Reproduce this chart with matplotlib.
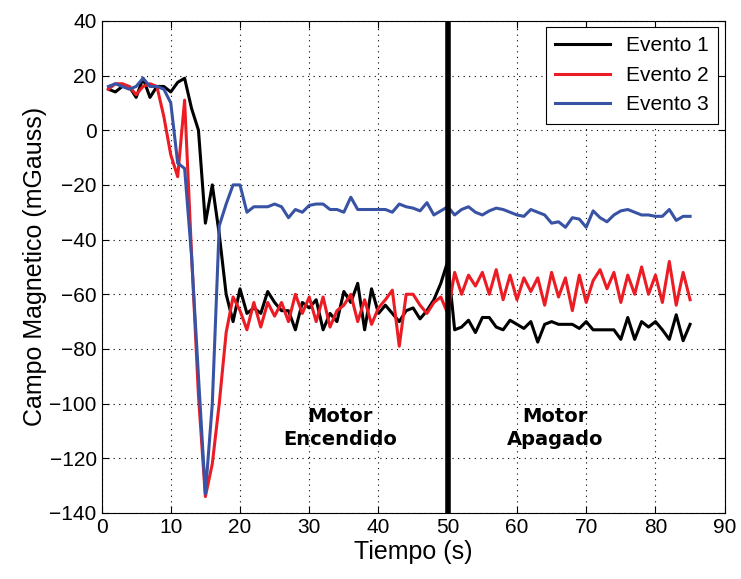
import matplotlib
matplotlib.use("Agg")
import matplotlib.pyplot as plt

plt.rcParams["font.family"] = ["Liberation Sans", "DejaVu Sans"]

tiempo = list(range(1, 86))

evento_1 = [
    15, 14, 16, 16, 12, 19, 12, 16, 16, 14,
    17.5, 19, 8, 0, -34, -20, -38, -60, -70, -58,
    -67, -65, -67, -59, -63, -66, -66, -73, -63, -65,
    -62, -73, -67, -70, -59, -63, -56, -73, -58, -67,
    -64, -67, -70, -66, -65, -69, -66, -62, -56, -48,
    -73, -72, -69.5, -74, -68.5, -68.5, -72, -73, -69.5, -71,
    -72.5, -70, -77.5, -71, -70, -71, -71, -71, -72.5, -70,
    -73, -73, -73, -73, -76.5, -68.5, -76.5, -70, -72, -70,
    -73, -76.5, -67.5, -77, -71,
]

evento_2 = [
    15, 17, 17, 16, 13, 16, 17, 16, 5, -9,
    -17, 11, -45, -97, -134, -122, -100, -74, -61, -66,
    -73, -63, -72, -63, -68, -63, -70, -60, -67, -61,
    -70, -61, -72, -66, -64, -60, -70, -62, -71, -65,
    -62, -58.5, -79, -60, -60, -64, -67, -63, -61, -67,
    -52, -60, -53, -57, -52, -60, -51, -62, -53, -62,
    -54, -59, -54, -64, -52, -61, -54, -66, -53, -63,
    -55, -51, -58, -52, -63, -53, -60, -50, -60, -53,
    -63, -48, -64, -52, -62,
]

evento_3 = [
    16, 17, 16, 15, 16, 19, 16, 16, 15, 10,
    -12, -14, -46, -90, -133, -100, -35, -27, -20, -20,
    -30, -28, -28, -28, -27, -28, -32, -29, -30, -27.5,
    -27, -27, -29, -29, -30, -24.5, -29, -29, -29, -29,
    -29, -30, -27, -28, -28.5, -29.5, -26.5, -31, -29.5, -28,
    -31, -29, -28, -30, -31, -29.5, -28.5, -29, -30, -31,
    -31.5, -29, -30, -31, -34, -33.5, -35.5, -32, -32.5, -35.5,
    -29.5, -32, -33.5, -31, -29.5, -29, -30, -31, -31, -31.5,
    -31.5, -29, -33, -31.5, -31.5,
]

t_motor = 50
x_ticks = list(range(0, 91, 10))
y_ticks = list(range(-140, 41, 20))

fig = plt.figure(figsize=(7.41, 5.79), dpi=100)
ax = fig.add_axes([0.137, 0.114, 0.841, 0.85])

ax.plot(tiempo, evento_1, color="black", linewidth=2.2, label="Evento 1")
ax.plot(tiempo, evento_2, color="#ec1c24", linewidth=2.2, label="Evento 2")
ax.plot(tiempo, evento_3, color="#3953a4", linewidth=2.2, label="Evento 3")
ax.axvline(t_motor, color="black", linewidth=4, zorder=5)

ax.text(34.5, -109, "Motor\nEncendido", family="DejaVu Sans", fontweight="bold",
        fontsize=14, ha="center", va="center", linespacing=1.3)
ax.text(65.5, -109, "Motor\nApagado", family="DejaVu Sans", fontweight="bold",
        fontsize=14, ha="center", va="center", linespacing=1.3)

ax.set_xlim(0, 90)
ax.set_ylim(-140, 40)
ax.set_xticks(x_ticks)
ax.set_yticks(y_ticks)
ax.grid(True, color="black", linestyle=(0, (1, 4)), linewidth=0.8)
ax.tick_params(direction="in", length=5, top=True, right=True, labelsize=15)
for spine in ax.spines.values():
    spine.set_linewidth(0.8)

ax.set_xlabel("Tiempo (s)", fontsize=18, labelpad=2)
ax.set_ylabel("Campo Magnetico (mGauss)", fontsize=18, labelpad=2)

leg = ax.legend(loc="upper right", fontsize=15, fancybox=False, framealpha=1,
                edgecolor="black", borderaxespad=0.3, handlelength=2.6,
                labelspacing=0.5, borderpad=0.45)
leg.get_frame().set_linewidth(0.8)

fig.savefig("out.png", dpi=100)
